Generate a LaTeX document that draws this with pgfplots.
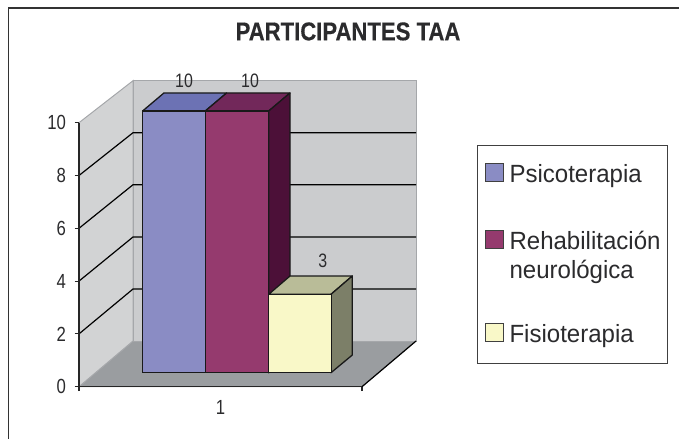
\documentclass[border=0pt]{standalone}
\usepackage{pgfplots}
\usepackage{pgfplotstable}
\pgfplotsset{compat=1.18}
\usepackage{fontspec}
\setmainfont[FakeStretch=0.82]{Liberation Sans}
\newfontfamily\titlefont[FakeStretch=0.86,BoldFeatures={FakeStretch=0.86,FakeBold=0.3}]{Liberation Sans}
\newfontfamily\legendfont[FakeStretch=0.965]{Liberation Sans}
\definecolor{txt}{HTML}{2B2B2D}
\definecolor{wall}{HTML}{CBCCCE}
\definecolor{lwall}{HTML}{D2D3D4}
\definecolor{floorc}{HTML}{9A9DA0}
\definecolor{edgec}{HTML}{A5A7AA}
\definecolor{aF}{HTML}{8A8CC4}\definecolor{aT}{HTML}{6C72B4}
\definecolor{bF}{HTML}{953A6E}\definecolor{bT}{HTML}{72285A}\definecolor{bS}{HTML}{4C1038}
\definecolor{cF}{HTML}{F9F8C8}\definecolor{cT}{HTML}{B9BC98}\definecolor{cS}{HTML}{7C7F68}
\pgfplotstableread{
x v
174 10
}\psico
\pgfplotstableread{
x v
237 10
}\rehab
\pgfplotstableread{
x v
299.8 3
}\fisio
\pgfplotsset{
  face/.style={fill=#1,draw=black!90,line width=1.3pt,line join=round,forget plot},
  swatch/.style={legend image code/.code={\draw[fill=#1,draw=black!75,line width=1pt] (0bp,-13bp) rectangle (18bp,5bp);}},
  dlabel/.style 2 args={nodes near coords,point meta=explicit,
    every node near coord/.append style={anchor=center,xshift=#1,yshift=#2,text=txt,
      font=\fontsize{19.5}{19.5}\selectfont,
      /pgf/number format/assume math mode=true}},
}
\begin{document}
\begin{tikzpicture}[x=1bp,y=1bp]
\path[use as bounding box] (0bp,0bp) rectangle (679bp,439bp);
\draw[line width=1.1pt,color=black!80] (8.7bp,-1bp) -- (8.7bp,431bp) -- (680bp,431bp);
\begin{axis}[
  at={(79bp,52.3bp)}, anchor=south west,
  scale only axis, width=283bp, height=264bp,
  xmin=79, xmax=362, ymin=0, ymax=10,
  clip=false, axis on top,
  axis x line=bottom, axis y line=left,
  axis line style={-,line width=1.3pt,color=black!85},
  major tick length=4.5bp,
  tick align=outside,
  ytick={0,2,4,6,8,10},
  ytick style={line width=1.2pt,color=black!85},
  xtick={220.5},
  xticklabels={1},
  xtick style={draw=none},
  extra x ticks={79,362},
  extra x tick labels={},
  extra x tick style={xtick style={draw=black!85,line width=1.2pt}},
  /pgf/number format/assume math mode=true,
  tick label style={font=\fontsize{20.5}{20.5}\selectfont,text=txt},
  xticklabel style={yshift=-6bp},
  yticklabel style={xshift=-5bp},
  title={\titlefont\bfseries PARTICIPANTES TAA},
  title style={at={(0.9505,1.323)},anchor=center,text=txt,font=\fontsize{25.8}{26}\selectfont},
  legend style={
    at={(axis cs:477,9.167)},anchor=north west,
    draw=black!75,line width=1.1pt,fill=white,
    inner xsep=7bp,inner ysep=17bp,
    row sep=43bp,column sep=4bp,
    cells={anchor=base west,inner sep=0pt},
    font=\legendfont\fontsize{25}{29.7}\selectfont,text=txt,
  },
  bar width=62.8bp,
]
% floor and walls
\addplot[fill=floorc,draw=edgec,line width=.8pt,forget plot] coordinates {(79,0)(133,1.73)(416,1.73)(362,0)} --cycle;
\addplot[fill=lwall,draw=edgec,line width=1pt,forget plot] coordinates {(79,0)(133,1.73)(133,11.59)(79,10)} --cycle;
\addplot[fill=wall,draw=edgec,line width=1pt,forget plot] coordinates {(133,1.73)(416,1.73)(416,11.59)(133,11.59)} --cycle;
\addplot[draw=black,line width=1.2pt,forget plot] coordinates {(362,0)(416,1.73)};
% gridlines on both walls
\addplot[draw=black,line width=1.2pt,forget plot] coordinates {(79,2)(133,3.70)(416,3.70)};
\addplot[draw=black,line width=1.2pt,forget plot] coordinates {(79,4)(133,5.67)(416,5.67)};
\addplot[draw=black,line width=1.2pt,forget plot] coordinates {(79,6)(133,7.65)(416,7.65)};
\addplot[draw=black,line width=1.2pt,forget plot] coordinates {(79,8)(133,9.62)(416,9.62)};
% bar 1
\addplot[face=aT] coordinates {(142.6,10.443)(205.3,10.443)(226.6,11.125)(163.9,11.125)} --cycle;
\addplot[ybar,yshift=14bp,fill=aF,draw=black!90,line width=1.3pt,swatch=aF,dlabel={10bp}{30bp}]
  table[x=x,y expr=\thisrow{v}*0.991,meta=v] {\psico};
\addlegendentry{Psicoterapia}
% bar 2
\addplot[face=bT] coordinates {(205.3,10.443)(268.7,10.443)(290,11.125)(226.6,11.125)} --cycle;
\addplot[face=bS] coordinates {(268.7,10.443)(290,11.125)(290,1.2)(268.7,0.53)} --cycle;
\addplot[ybar,yshift=14bp,fill=bF,draw=black!90,line width=1.3pt,swatch=bF,dlabel={13bp}{30bp}]
  table[x=x,y expr=\thisrow{v}*0.991,meta=v] {\rehab};
\addlegendentry{\parbox[t]{149bp}{Rehabilitación\\neurológica}}
% bar 3
\addplot[face=cT] coordinates {(268.7,3.5)(331,3.5)(352.3,4.193)(290,4.193)} --cycle;
\addplot[face=cS] coordinates {(331,3.5)(352.3,4.193)(352.3,1.2)(331,0.53)} --cycle;
\addplot[ybar,yshift=14bp,fill=cF,draw=black!90,line width=1.3pt,swatch=cF,dlabel={23bp}{33.6bp}]
  table[x=x,y expr=\thisrow{v}*0.991,meta=v] {\fisio};
\addlegendentry{\rule{0pt}{45bp}Fisioterapia}
\end{axis}
\end{tikzpicture}
\end{document}
